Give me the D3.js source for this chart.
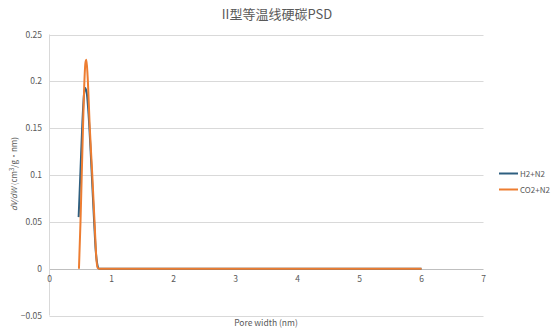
<!DOCTYPE html>
<html><head><meta charset="utf-8">
<script src="https://cdn.jsdelivr.net/npm/d3@7"></script>
<style>body{margin:0;background:#fff;} text{font-family:"Noto Sans CJK SC","Liberation Sans",sans-serif;}</style>
</head><body><svg id="c" width="554" height="335"></svg>
<script>
const title = "II型等温线硬碳PSD";
const xTicks = [0,1,2,3,4,5,6,7];
const yTicks = [-0.05,0,0.05,0.1,0.15,0.2,0.25];
const seriesNames = ["H2+N2","CO2+N2"];
const h2x = [0.47,0.50,0.53,0.555,0.575,0.60,0.63,0.66,0.69,0.72,0.745,0.77,0.79,0.81,1,2,3,4,5,6];
const h2y = [0.055,0.105,0.155,0.185,0.193,0.188,0.165,0.13,0.09,0.05,0.02,0.005,0.0005,0,0,0,0,0,0,0];
const co2x = [0.475,0.50,0.52,0.54,0.56,0.58,0.595,0.615,0.65,0.69,0.73,0.755,0.775,0.80,1,2,3,4,5,6];
const co2y = [0,0.05,0.1,0.15,0.195,0.22,0.223,0.205,0.15,0.1,0.045,0.012,0.001,0,0,0,0,0,0,0];
const colors = ["#2e5f80","#ed7d31"];

const svg = d3.select("#c");
const x = d3.scaleLinear().domain([0,7]).range([49.5,483.5]);
const y = d3.scaleLinear().domain([-0.05,0.25]).range([315.5,34.5]);

svg.append("text").attr("x",277).attr("y",19).attr("text-anchor","middle")
  .attr("font-size",13).attr("fill","#595959").text(title);

const g = svg.append("g");
g.selectAll("line.grid").data(yTicks).join("line")
  .attr("x1",x(0)).attr("x2",x(7)).attr("y1",d=>Math.round(y(d))+0.5).attr("y2",d=>Math.round(y(d))+0.5)
  .attr("stroke",d=>d===0?"#bfbfbf":"#d9d9d9").attr("stroke-width",1);
g.append("line").attr("x1",x(0)).attr("x2",x(0)).attr("y1",y(0.25)).attr("y2",y(-0.05))
  .attr("stroke","#d9d9d9");

g.selectAll("text.yt").data(yTicks).join("text")
  .attr("x",42).attr("y",d=>y(d)+3).attr("text-anchor","end")
  .attr("font-size",8.5).attr("fill","#595959").text(d=>d3.format("")(d));
g.selectAll("text.xt").data(xTicks).join("text")
  .attr("x",d=>x(d)).attr("y",282).attr("text-anchor","middle")
  .attr("font-size",8.5).attr("fill","#595959").text(d=>d);

svg.append("text").attr("x",266).attr("y",326).attr("text-anchor","middle")
  .attr("font-size",8.5).attr("fill","#595959").text("Pore width (nm)");
const yt = svg.append("text").attr("transform","translate(17,174) rotate(-90)").attr("text-anchor","middle")
  .attr("font-size",8).attr("fill","#595959");
yt.append("tspan").attr("font-style","italic").text("dV/dW");
yt.append("tspan").text(" (cm");
yt.append("tspan").attr("font-size",6).attr("dy",-3).text("3");
yt.append("tspan").attr("dy",3).text("/g·nm)");

const line = d3.line().x(d=>x(d[0])).y(d=>y(d[1])).curve(d3.curveMonotoneX);
const data = [d3.zip(h2x,h2y), d3.zip(co2x,co2y)];
data.forEach((d,i)=>{
  svg.append("path").datum(d).attr("d",line).attr("fill","none")
    .attr("stroke",colors[i]).attr("stroke-width",2).attr("stroke-linejoin","round");
});

seriesNames.forEach((n,i)=>{
  const yy = 173.5 + i*16;
  svg.append("line").attr("x1",499).attr("x2",518).attr("y1",yy).attr("y2",yy)
    .attr("stroke",colors[i]).attr("stroke-width",2);
  svg.append("text").attr("x",520).attr("y",yy+3).attr("font-size",8)
    .attr("fill","#595959").text(n);
});
</script></body></html>
